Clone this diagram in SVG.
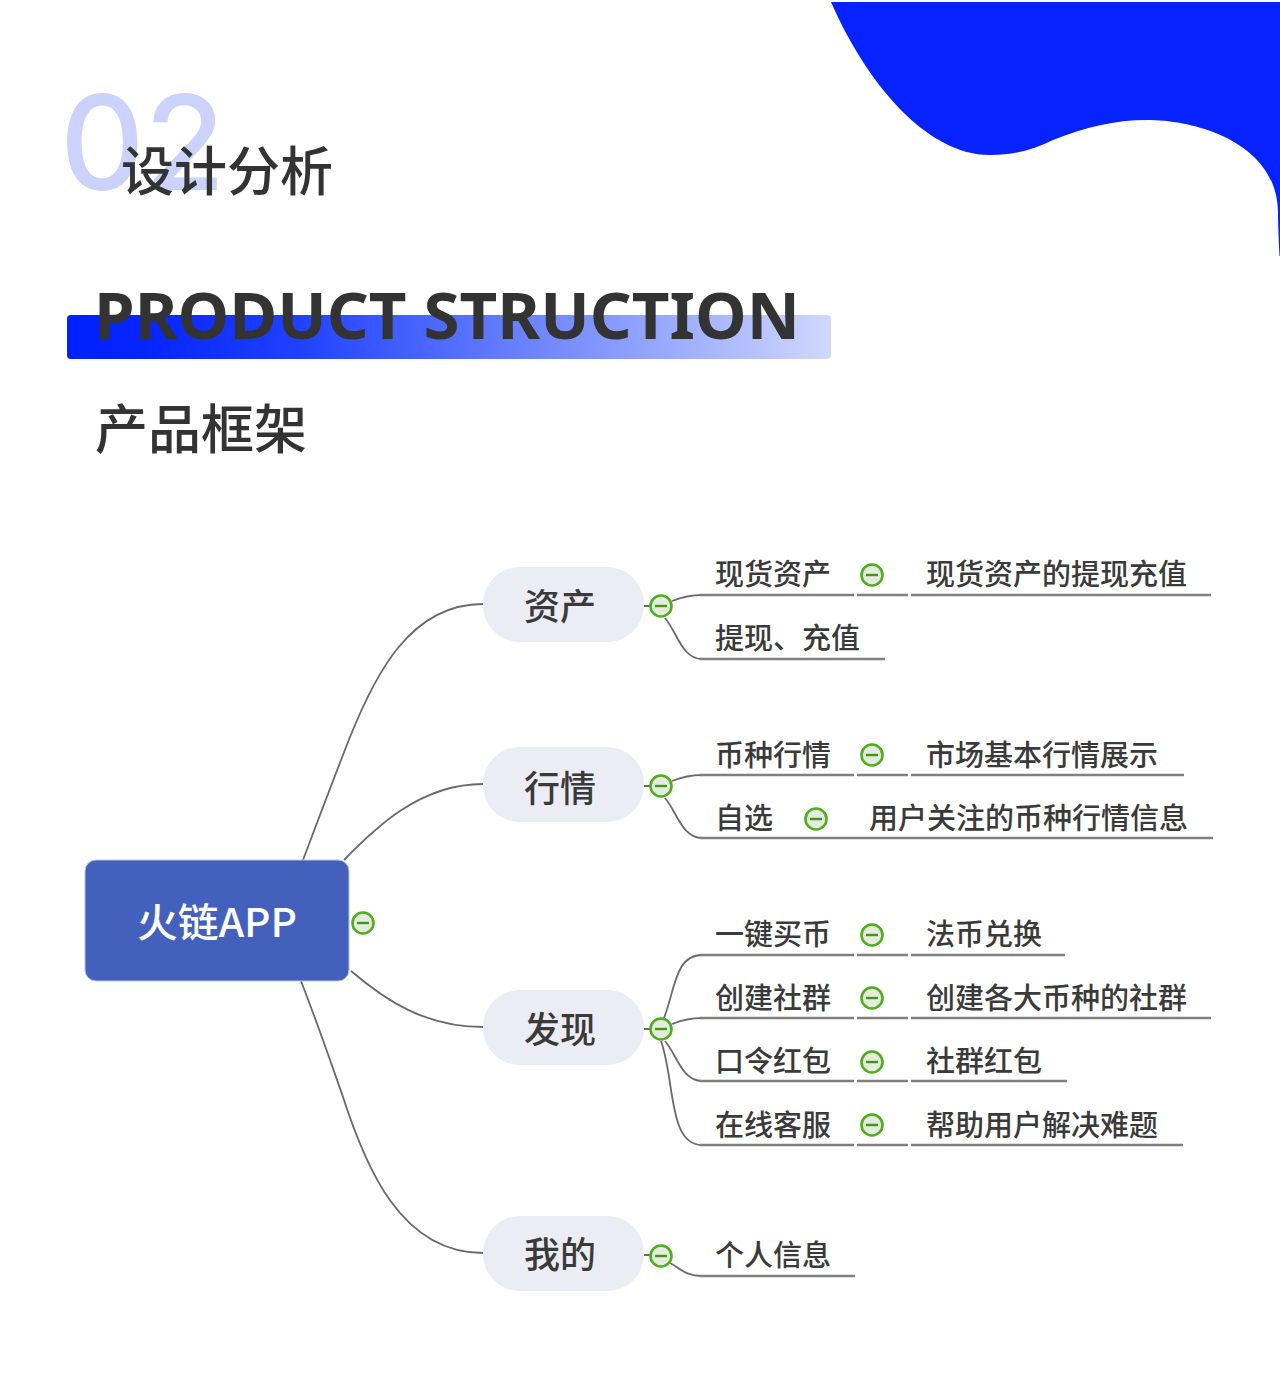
<svg xmlns="http://www.w3.org/2000/svg" width="1280" height="1380" viewBox="0 0 1280 1380">
<style>
text{font-family:"Noto Sans CJK SC","Noto Sans",sans-serif}
.leaf{font-size:29px;fill:#3a3a3a;font-weight:500}
.branch{font-size:36px;fill:#3a3a3a;text-anchor:middle;font-weight:500}
.pill{fill:#ebecf4}
.conn{fill:none;stroke:#6a6a6a;stroke-width:1.8}
.ul{fill:none;stroke:#808080;stroke-width:2.4}
.tc{fill:#e4ecdf;stroke:#4fae1e;stroke-width:2.6}
.tm{stroke:#3d9a10;stroke-width:2.4}
</style>
<defs>
<linearGradient id="bar" x1="0" x2="1" y1="0" y2="0"><stop offset="0" stop-color="#0020ff"/><stop offset="0.1" stop-color="#0624ff"/><stop offset="0.3" stop-color="#1f41ff"/><stop offset="1" stop-color="#d0d8fd"/></linearGradient>
<g id="t"><circle class="tc" r="10.5"/><line class="tm" x1="-6" x2="6" y1="0" y2="0"/></g>
</defs>
<rect width="1280" height="1380" fill="#fff"/>
<path id="blob" d="M831 2C865 80 925 155 990 155C1015 155 1035 149 1053 140C1085 127 1115 120 1147 120C1200 120 1278 145 1278 213C1278 225 1279 245 1279.5 256L1280 256V2Z" fill="#0522ff"/>
<text x="60" y="190" font-size="131" style="font-family:Inter,'Noto Sans',sans-serif" font-weight="500" fill="#cbd3fc">02</text>
<text x="121" y="191" font-size="53" font-weight="500" fill="#333">设计分析</text>
<rect x="67" y="315" width="764" height="44" rx="4" fill="url(#bar)"/>
<text x="94" y="339" font-size="65" font-weight="700" style="font-family:'Noto Sans',sans-serif" fill="#333" textLength="706" lengthAdjust="spacingAndGlyphs">PRODUCT STRUCTION</text>
<text x="95" y="449" font-size="53" font-weight="500" fill="#333">产品框架</text>

<g id="connectors">
<path class="conn" d="M303 860C320 815 335 775 350 737C375 675 410 604 483 604"/>
<path class="conn" d="M344 860C375 828 420 784 483 784"/>
<path class="conn" d="M351 971C385 1000 425 1027 483 1027"/>
<path class="conn" d="M301 981C320 1030 330 1060 343 1097C365 1165 400 1253 483 1253"/>
<path class="conn" d="M644 606H650M672 601C682 597 690 595 702 595"/>
<path class="conn" d="M665 618C677 632 682 659 702 659"/>
<path class="conn" d="M644 786H650M672 781C682 777 690 775 702 775"/>
<path class="conn" d="M665 798C677 812 682 838 702 838"/>
<path class="conn" d="M644 1029H650M664 1018C675 990 675 955 702 955"/>
<path class="conn" d="M672 1024C682 1020 690 1018 702 1018"/>
<path class="conn" d="M665 1041C677 1055 682 1081 702 1081"/>
<path class="conn" d="M661 1041C675 1080 668 1145 702 1145"/>
<path class="conn" d="M644 1255H650M670 1263C680 1268 685 1276 702 1276"/>
<path class="ul" d="M700 595H854M857 595H908M911 595H1211"/>
<path class="ul" d="M700 659H885"/>
<path class="ul" d="M700 775H854M857 775H908M911 775H1184"/>
<path class="ul" d="M700 838H1213"/>
<path class="ul" d="M700 955H854M857 955H908M911 955H1065"/>
<path class="ul" d="M700 1018H854M857 1018H908M911 1018H1211"/>
<path class="ul" d="M700 1081H854M857 1081H908M911 1081H1067"/>
<path class="ul" d="M700 1145H854M857 1145H908M911 1145H1183"/>
<path class="ul" d="M700 1276H855"/>
</g>

<g id="root"><rect x="85" y="860" width="264" height="121" rx="11" fill="#4361bc" stroke="#b9c4e8" stroke-width="1"/><text x="217" y="937" font-size="40" font-weight="500" fill="#fff" text-anchor="middle" textLength="160" lengthAdjust="spacingAndGlyphs">火链APP</text><use href="#t" x="363" y="923"/></g>

<g id="n-zichan"><rect class="pill" x="483" y="567" width="161" height="75" rx="37"/><text class="branch" x="560" y="620">资产</text><use href="#t" x="661" y="606"/></g>
<g id="n-hangqing"><rect class="pill" x="483" y="747" width="161" height="75" rx="37"/><text class="branch" x="560" y="802">行情</text><use href="#t" x="661" y="786"/></g>
<g id="n-faxian"><rect class="pill" x="483" y="990" width="161" height="75" rx="37"/><text class="branch" x="560" y="1043">发现</text><use href="#t" x="661" y="1029"/></g>
<g id="n-wode"><rect class="pill" x="483" y="1216" width="161" height="75" rx="37"/><text class="branch" x="560" y="1268">我的</text><use href="#t" x="661" y="1256"/></g>

<g id="l1"><text class="leaf" x="715" y="585">现货资产</text><use href="#t" x="872" y="575"/><text class="leaf" x="926" y="585">现货资产的提现充值</text></g>
<g id="l2"><text class="leaf" x="715" y="649">提现、充值</text></g>
<g id="l3"><text class="leaf" x="715" y="766">币种行情</text><use href="#t" x="872" y="755"/><text class="leaf" x="926" y="766">市场基本行情展示</text></g>
<g id="l4"><text class="leaf" x="715" y="829">自选</text><use href="#t" x="816" y="819"/><text class="leaf" x="869" y="829">用户关注的币种行情信息</text></g>
<g id="l5"><text class="leaf" x="715" y="945">一键买币</text><use href="#t" x="872" y="935"/><text class="leaf" x="926" y="945">法币兑换</text></g>
<g id="l6"><text class="leaf" x="715" y="1009">创建社群</text><use href="#t" x="872" y="998"/><text class="leaf" x="926" y="1009">创建各大币种的社群</text></g>
<g id="l7"><text class="leaf" x="715" y="1072">口令红包</text><use href="#t" x="872" y="1062"/><text class="leaf" x="926" y="1072">社群红包</text></g>
<g id="l8"><text class="leaf" x="715" y="1136">在线客服</text><use href="#t" x="872" y="1125"/><text class="leaf" x="926" y="1136">帮助用户解决难题</text></g>
<g id="l9"><text class="leaf" x="715" y="1266">个人信息</text></g>
</svg>
